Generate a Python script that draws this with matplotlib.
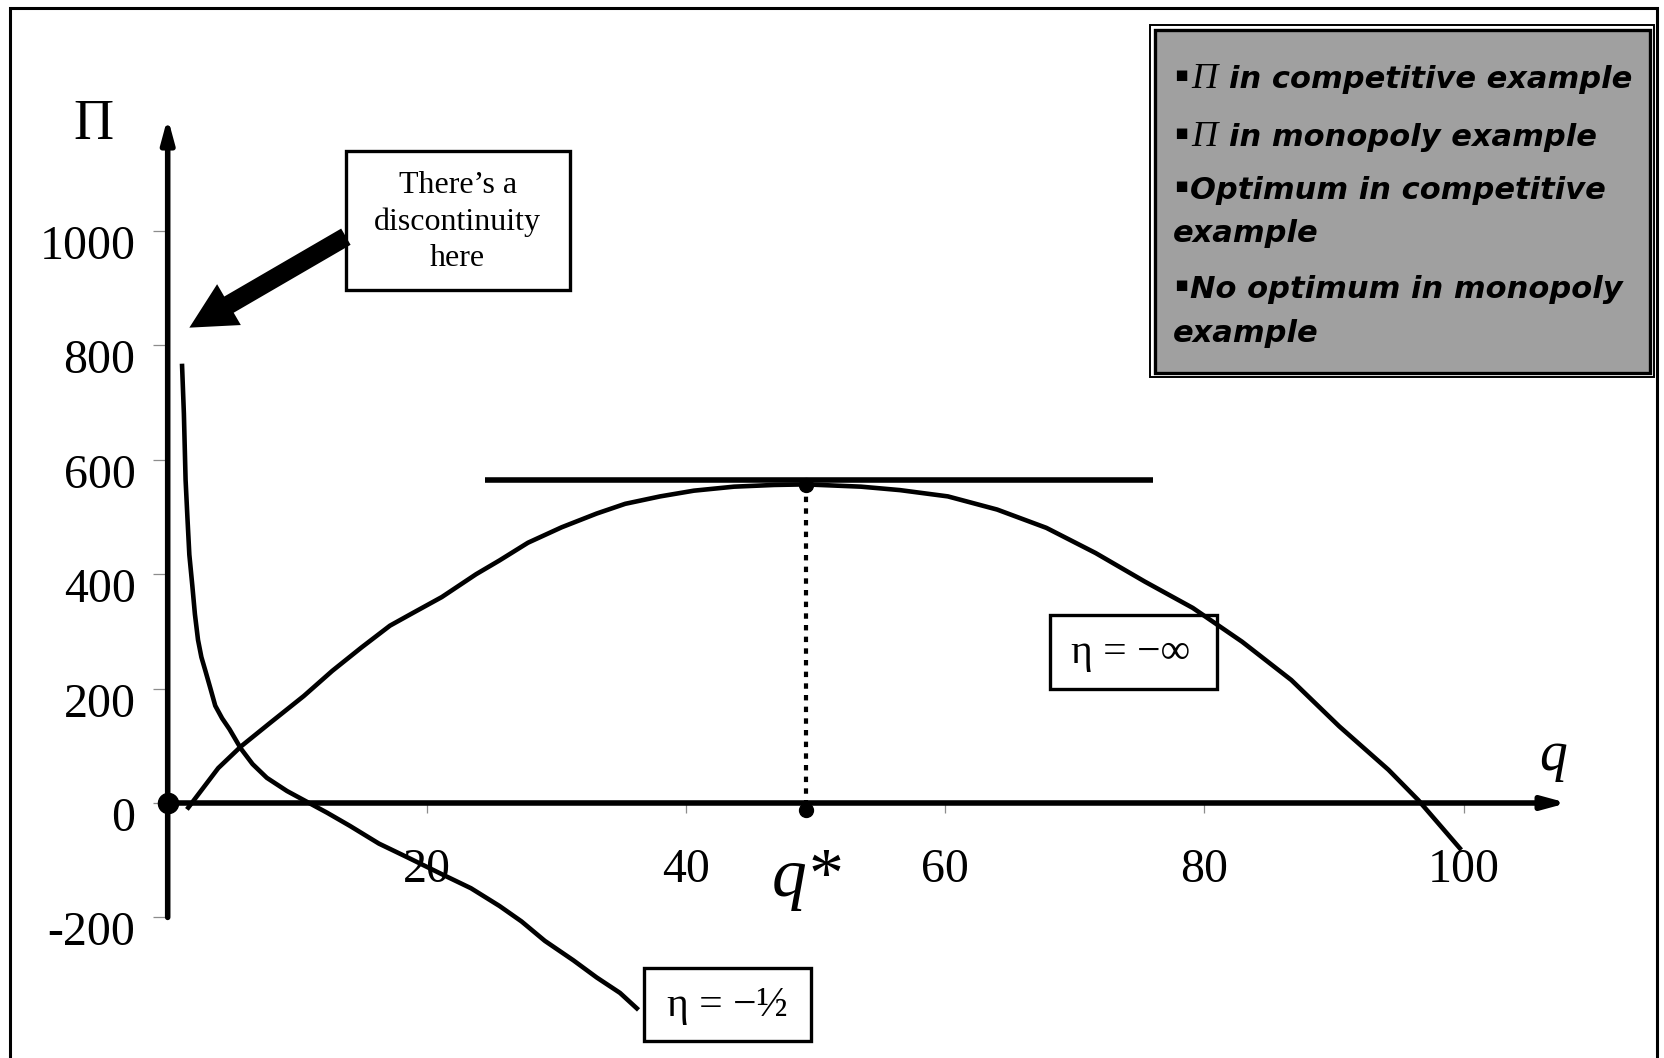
"""
Profit against output: competitive (eta = -inf) vs monopoly (eta = -1/2) example.
"""
import matplotlib
matplotlib.use("Agg")
import matplotlib.pyplot as plt
from matplotlib.patches import Rectangle, FancyArrowPatch

OUTPUT = "out.png"
W, H, DPI = 1664, 1058, 100
SERIF = "Liberation Serif"

# ── data ───────────────────────────────────────────────────────────
COMP_Q = [1.59, 3.9, 5.66, 7.9, 10.5, 12.7, 14.96, 17.15, 18.9, 21.15, 23.8,
          25.6, 27.8, 30.4, 33.1, 35.3, 38.0, 40.6, 43.7, 46.8, 49.25, 53.5,
          56.5, 60.2, 64.0, 67.8, 71.6, 75.4, 79.1, 82.9, 86.7, 90.4, 94.2,
          96.5, 99.7]
COMP_PI = [-8, 61, 99, 140, 187, 231, 272, 310, 332, 360, 400,
           424, 455, 482, 506, 523, 536, 546, 553, 556, 557, 553,
           547, 536, 513, 481, 437, 387, 341, 282, 215, 134, 58,
           5, -79]

MONO_Q = [1.11, 1.25, 1.38, 1.52, 1.67, 1.9, 2.1, 2.34, 2.6, 2.91, 3.3, 3.67,
          4.2, 4.77, 5.65, 6.55, 7.65, 9.2, 10.75, 12.3, 14.06, 16.3, 18.5,
          21.2, 23.4, 25.6, 27.3, 29.1, 31.3, 33.1, 34.9, 36.2]
MONO_PI = [764, 680, 565, 500, 434, 380, 330, 285, 255, 231, 200, 170,
           148, 129, 95, 68, 44, 21, 2, -17, -40, -71, -95,
           -125, -149, -180, -207, -241, -275, -305, -332, -359]

Y_TICKS = [-200, 0, 200, 400, 600, 800, 1000]
X_TICKS = [20, 40, 60, 80, 100]

Q_STAR = 49.25
PI_STAR = 556
Q_STAR_BASE = -12
TANGENT_LEVEL = 565
TANGENT_SPAN = (24.5, 76.0)

LEGEND_ITEMS = [
    ("Π", ["in competitive example"]),
    ("Π", ["in monopoly example"]),
    ("", ["Optimum in competitive", "example"]),
    ("", ["No optimum in monopoly", "example"]),
]


def fpx(x, y):
    """pixel position (from top-left) -> figure fraction"""
    return x / W, 1 - y / H


def draw():
    fig = plt.figure(figsize=(W / DPI, H / DPI), dpi=DPI)
    fig.patch.set_facecolor("white")
    ax = fig.add_axes([0, 0, 1, 1])
    ax.set_xlim(-12.94, 115.46)
    ax.set_ylim(-445.8, 1403.8)
    ax.axis("off")

    # axes with arrows
    arrow_kw = dict(arrowstyle="-|>,head_length=1.4,head_width=0.38",
                    lw=4.0, color="black", shrinkA=0, shrinkB=0,
                    mutation_scale=10)
    ax.annotate("", xy=(0, 1198), xytext=(0, -200), arrowprops=arrow_kw,
                zorder=4)
    ax.annotate("", xy=(108, 0), xytext=(0, 0), arrowprops=arrow_kw,
                zorder=4)

    # small grey ticks
    ax.hlines(Y_TICKS, -1.16, 0, color="#8c8c8c", lw=0.9, zorder=1)
    ax.vlines(X_TICKS, -17.5, 0, color="#8c8c8c", lw=0.9, zorder=1)

    for v in Y_TICKS:
        ax.text(-2.48, v - 49, str(v), ha="right", va="baseline",
                family=SERIF, fontsize=34.5)
    for v in X_TICKS:
        ax.text(v, -138, str(v), ha="center", va="baseline",
                family=SERIF, fontsize=34.5)

    ax.text(-5.7, 1160, "Π", ha="center", va="baseline",
            family=SERIF, fontsize=40)
    ax.text(106.9, 58, "q", ha="center", va="baseline",
            family=SERIF, style="italic", fontsize=40)
    ax.text(Q_STAR, -163, "q*", ha="center", va="baseline",
            family=SERIF, style="italic", fontsize=50)

    # curves
    ax.plot(COMP_Q, COMP_PI, color="black", lw=3.3, zorder=5,
            solid_joinstyle="round")
    ax.plot(MONO_Q, MONO_PI, color="black", lw=3.3, zorder=5,
            solid_joinstyle="round")
    ax.plot(TANGENT_SPAN, [TANGENT_LEVEL] * 2, color="black", lw=4.0,
            solid_capstyle="butt", zorder=5)
    ax.plot([Q_STAR, Q_STAR], [PI_STAR, Q_STAR_BASE], color="black",
            lw=3.0, ls=(0, (1.3, 1.5)), zorder=5)
    ax.plot([Q_STAR, Q_STAR], [PI_STAR, Q_STAR_BASE], "o", color="black",
            ms=10, zorder=6)
    ax.plot([0], [0], "o", color="black", ms=14.5, zorder=6)

    # discontinuity note + big arrow
    ax.add_patch(Rectangle((13.75, 897.5), 31.02 - 13.75, 1139 - 897.5,
                           facecolor="white", edgecolor="black", lw=2.4,
                           zorder=3))
    ax.text(22.38, 1016, "There’s a\ndiscontinuity\nhere", ha="center",
            va="center", multialignment="center", linespacing=1.34,
            family=SERIF, fontsize=23, zorder=4)
    ax.add_patch(FancyArrowPatch(
        (13.75, 990), (1.67, 831),
        arrowstyle="simple,head_length=33,head_width=34,tail_width=13.5",
        mutation_scale=1, shrinkA=0, shrinkB=0,
        facecolor="black", edgecolor="black", lw=0, zorder=4))

    # eta boxes
    ax.add_patch(Rectangle((36.75, -416), 49.64 - 36.75, 416 - 288.5,
                           facecolor="white", edgecolor="black", lw=2.4,
                           zorder=3))
    ax.text(43.2, -372, "η = −½", ha="center", va="baseline",
            family=SERIF, fontsize=30, zorder=4)
    ax.add_patch(Rectangle((68.1, 198.8), 81.0 - 68.1, 328.7 - 198.8,
                           facecolor="white", edgecolor="black", lw=2.4,
                           zorder=3))
    ax.text(74.3, 244.8, "η = −∞", ha="center", va="baseline",
            family=SERIF, fontsize=30, zorder=4)

    # legend panel (double border, grey fill)
    x0, y0 = fpx(1150, 377)
    x1, y1 = fpx(1654, 25)
    fig.add_artist(Rectangle((x0, y0), x1 - x0, y1 - y0,
                             transform=fig.transFigure, facecolor="white",
                             edgecolor="black", lw=1.4, zorder=2))
    x0, y0 = fpx(1154.5, 372.5)
    x1, y1 = fpx(1649.5, 29.5)
    fig.add_artist(Rectangle((x0, y0), x1 - x0, y1 - y0,
                             transform=fig.transFigure, facecolor="#a0a0a0",
                             edgecolor="black", lw=2.4, zorder=3))

    baselines = iter([88, 146, 199, 242, 298, 342])
    txt_kw = dict(family="DejaVu Sans", weight="bold", style="italic",
                  fontsize=22, va="baseline", zorder=5)
    for sym, lines in LEGEND_ITEMS:
        for i, line in enumerate(lines):
            yb = next(baselines)
            if i == 0:
                fig.text(*fpx(1174, yb - 7), "▪", family="DejaVu Sans",
                         fontsize=15, va="baseline", zorder=5)
                if sym:
                    fig.text(*fpx(1191, yb), sym, family=SERIF,
                             style="italic", fontsize=26, va="baseline",
                             zorder=5)
                    fig.text(*fpx(1229, yb), line, **txt_kw)
                else:
                    fig.text(*fpx(1190, yb), line, **txt_kw)
            else:
                fig.text(*fpx(1173, yb), line, **txt_kw)

    # outer slide frame (bottom edge runs off the picture)
    fx0, fy_top = fpx(9.5, 8)
    fx1, _ = fpx(1657, 8)
    fig.add_artist(Rectangle((fx0, -0.05), fx1 - fx0, fy_top + 0.05,
                             transform=fig.transFigure, fill=False,
                             edgecolor="black", lw=2.2, zorder=10))

    fig.savefig(OUTPUT, dpi=DPI, facecolor="white")
    plt.close(fig)


if __name__ == "__main__":
    draw()
